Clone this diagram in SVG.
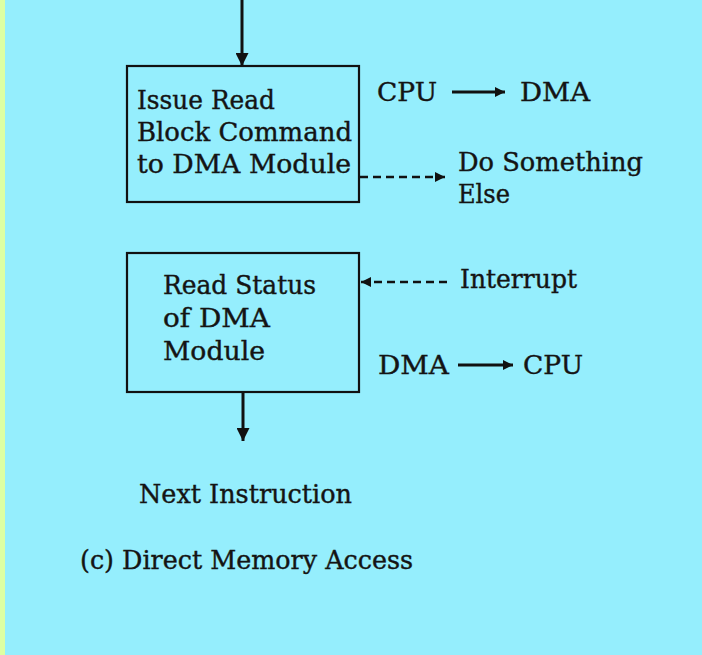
<svg xmlns="http://www.w3.org/2000/svg" width="702" height="655" viewBox="0 0 702 655">
  <style>
    .bg { fill: #95EEFD; }
    .edge { fill: #DDFFA3; }
    .box { fill: none; stroke: #111; stroke-width: 2.2; }
    .t { font-family: "DejaVu Serif", "Liberation Serif", serif; font-size: 26px; fill: #141414; stroke: #141414; stroke-width: 0.4; }
    .line { stroke: #111; stroke-width: 3; fill: none; }
    .dash { stroke: #111; stroke-width: 2.6; fill: none; stroke-dasharray: 8 5; }
    .head { fill: #111; }
  </style>
  <defs>
    <marker id="arrow" viewBox="0 0 10 10" refX="10" refY="5" markerWidth="16" markerHeight="10" markerUnits="userSpaceOnUse" orient="auto">
      <path d="M0,0 L10,5 L0,10 Z" class="head"/>
    </marker>
    <marker id="arrowV" viewBox="0 0 10 10" refX="10" refY="5" markerWidth="18" markerHeight="13" markerUnits="userSpaceOnUse" orient="auto">
      <path d="M0,0 L10,5 L0,10 Z" class="head"/>
    </marker>
  </defs>

  <rect class="bg" x="0" y="0" width="702" height="655"/>
  <rect class="edge" x="0" y="0" width="5" height="655"/>

  <g id="connectors">
    <line class="line" x1="242" y1="0" x2="242" y2="66" marker-end="url(#arrowV)"/>
    <line class="line" x1="243" y1="392" x2="243" y2="441" marker-end="url(#arrowV)"/>
    <line class="line" x1="452" y1="92" x2="505" y2="92" marker-end="url(#arrow)"/>
    <line class="line" x1="458" y1="365" x2="513" y2="365" marker-end="url(#arrow)"/>
    <line class="dash" x1="360" y1="177" x2="445" y2="177" marker-end="url(#arrow)"/>
    <line class="dash" x1="447" y1="282" x2="361" y2="282" marker-end="url(#arrow)"/>
  </g>

  <g id="issue-read">
    <rect class="box" x="127" y="66" width="232" height="136"/>
    <text class="t" x="137" y="109" textLength="138" lengthAdjust="spacingAndGlyphs">Issue Read</text>
    <text class="t" x="137" y="141" textLength="215" lengthAdjust="spacingAndGlyphs">Block Command</text>
    <text class="t" x="137" y="173" textLength="214" lengthAdjust="spacingAndGlyphs">to DMA Module</text>
  </g>

  <g id="read-status">
    <rect class="box" x="127" y="253" width="232" height="139"/>
    <text class="t" x="163" y="294" textLength="153" lengthAdjust="spacingAndGlyphs">Read Status</text>
    <text class="t" x="163" y="327" textLength="107" lengthAdjust="spacingAndGlyphs">of DMA</text>
    <text class="t" x="163" y="360" textLength="102" lengthAdjust="spacingAndGlyphs">Module</text>
  </g>

  <g id="labels">
    <text class="t" x="377" y="101" textLength="60" lengthAdjust="spacingAndGlyphs">CPU</text>
    <text class="t" x="520" y="101" textLength="70" lengthAdjust="spacingAndGlyphs">DMA</text>
    <text class="t" x="458" y="171" textLength="185" lengthAdjust="spacingAndGlyphs">Do Something</text>
    <text class="t" x="458" y="203" textLength="52" lengthAdjust="spacingAndGlyphs">Else</text>
    <text class="t" x="460" y="288" textLength="117" lengthAdjust="spacingAndGlyphs">Interrupt</text>
    <text class="t" x="378" y="374" textLength="71" lengthAdjust="spacingAndGlyphs">DMA</text>
    <text class="t" x="523" y="374" textLength="60" lengthAdjust="spacingAndGlyphs">CPU</text>
  </g>

  <g id="next-instruction">
    <text class="t" x="139" y="503" textLength="213" lengthAdjust="spacingAndGlyphs">Next Instruction</text>
  </g>

  <g id="caption">
    <text class="t" x="80" y="569" textLength="333" lengthAdjust="spacingAndGlyphs">(c) Direct Memory Access</text>
  </g>
</svg>
